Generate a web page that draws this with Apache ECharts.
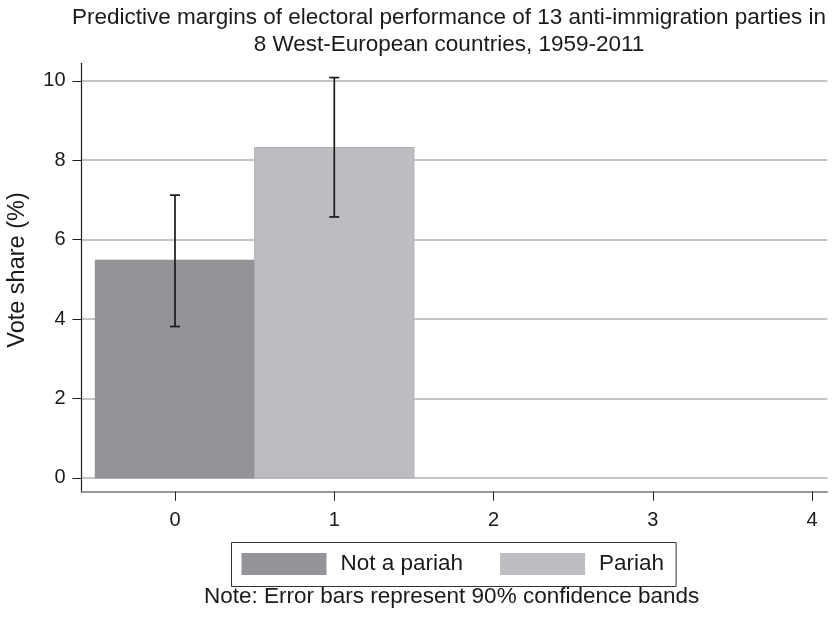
<!DOCTYPE html>
<html>
<head>
<meta charset="utf-8">
<script src="https://cdn.jsdelivr.net/npm/echarts@6/dist/echarts.min.js"></script>
<style>
html,body{margin:0;padding:0;background:#fff;}
#chart{width:835px;height:618px;}
</style>
</head>
<body>
<div id="chart"></div>
<script>
var seriesNames = ['Not a pariah', 'Pariah'];
var xPositions = [0, 1];
var margins = [5.48, 8.32];
var ciLower = [3.81, 6.57];
var ciUpper = [7.12, 10.08];
var xTicks = [0, 1, 2, 3, 4];
var yTicks = [0, 2, 4, 6, 8, 10];
var barColors = ['#939498', '#bcbdc1'];
var barBorders = ['#86878b', '#aeafb3'];

var FONT = '"Liberation Sans", Arial, Helvetica, sans-serif';
var chart = echarts.init(document.getElementById('chart'), null, {renderer: 'canvas'});

function barRender(idx) {
  return function (params, api) {
    var x = api.value(0), y = api.value(1);
    var p0 = api.coord([x - 0.5, 0]);
    var p1 = api.coord([x + 0.5, y]);
    return {
      type: 'rect',
      shape: {x: p0[0], y: p1[1], width: p1[0] - p0[0], height: p0[1] - p1[1]},
      style: {fill: barColors[idx], stroke: barBorders[idx], lineWidth: 1}
    };
  };
}

function errRender(params, api) {
  var x = api.value(0), lo = api.value(1), hi = api.value(2);
  var pl = api.coord([x, lo]);
  var ph = api.coord([x, hi]);
  var cw = 5;
  var st = {stroke: '#1a1a1a', lineWidth: 1.7};
  return {
    type: 'group',
    children: [
      {type: 'line', shape: {x1: pl[0], y1: pl[1], x2: ph[0], y2: ph[1]}, style: st},
      {type: 'line', shape: {x1: pl[0] - cw, y1: pl[1], x2: pl[0] + cw, y2: pl[1]}, style: st},
      {type: 'line', shape: {x1: ph[0] - cw, y1: ph[1], x2: ph[0] + cw, y2: ph[1]}, style: st}
    ]
  };
}

var series = [];
seriesNames.forEach(function (name, i) {
  series.push({
    type: 'custom',
    name: name,
    renderItem: barRender(i),
    itemStyle: {color: barColors[i]},
    encode: {x: 0, y: 1},
    data: [[xPositions[i], margins[i]]],
    z: 2
  });
});
series.push({
  type: 'custom',
  name: 'CI',
  renderItem: errRender,
  encode: {x: 0, y: [1, 2]},
  data: xPositions.map(function (x, i) { return [x, ciLower[i], ciUpper[i]]; }),
  z: 5
});

var option = {
  backgroundColor: '#ffffff',
  animation: false,
  title: {
    text: 'Predictive margins of electoral performance of 13 anti-immigration parties in\n8 West-European countries, 1959-2011',
    left: 449,
    textAlign: 'center',
    top: 4,
    padding: 0,
    textStyle: {fontFamily: FONT, fontSize: 22.5, fontWeight: 'normal', color: '#1a1a1a', lineHeight: 27}
  },
  grid: {left: 81.5, right: 7.7, top: 63.3, bottom: 126.3, containLabel: false, outerBoundsMode: 'none'},
  xAxis: {
    type: 'value',
    min: -0.587,
    max: 4.095,
    axisLine: {show: true, onZero: false, lineStyle: {color: '#777777', width: 1.6}},
    axisTick: {show: true, length: 9, customValues: xTicks, lineStyle: {color: '#1e1e1e', width: 1}},
    axisLabel: {customValues: xTicks, margin: 19, fontFamily: FONT, fontSize: 20, color: '#1a1a1a'},
    splitLine: {show: false}
  },
  yAxis: {
    type: 'value',
    min: -0.35,
    max: 10.44,
    name: 'Vote share (%)',
    nameLocation: 'middle',
    nameGap: 52,
    nameTextStyle: {fontFamily: FONT, fontSize: 23.5, color: '#1a1a1a', padding: [0, 0, 0, 15]},
    axisLine: {show: true, onZero: false, lineStyle: {color: '#1e1e1e', width: 1.2}},
    axisTick: {show: true, length: 9, customValues: yTicks, lineStyle: {color: '#1e1e1e', width: 1}},
    axisLabel: {customValues: yTicks, margin: 16, fontFamily: FONT, fontSize: 20, color: '#1a1a1a'},
    splitLine: {show: true, lineStyle: {color: '#c4c4c6', width: 1.8}}
  },
  legend: {
    data: seriesNames,
    left: 231.5,
    top: 542.5,
    orient: 'horizontal',
    icon: 'rect',
    itemWidth: 85,
    itemHeight: 22,
    itemGap: 37,
    padding: [10, 12, 11, 10],
    borderColor: '#333333',
    borderWidth: 1,
    selectedMode: false,
    textStyle: {fontFamily: FONT, fontSize: 22.5, color: '#1a1a1a', padding: [0, 0, 0, 9]}
  },
  graphic: [{
    type: 'text',
    left: 204,
    top: 585,
    style: {
      text: 'Note: Error bars represent 90% confidence bands',
      font: '22.5px ' + FONT,
      fill: '#1a1a1a'
    }
  }],
  series: series
};
chart.setOption(option);
</script>
</body>
</html>
